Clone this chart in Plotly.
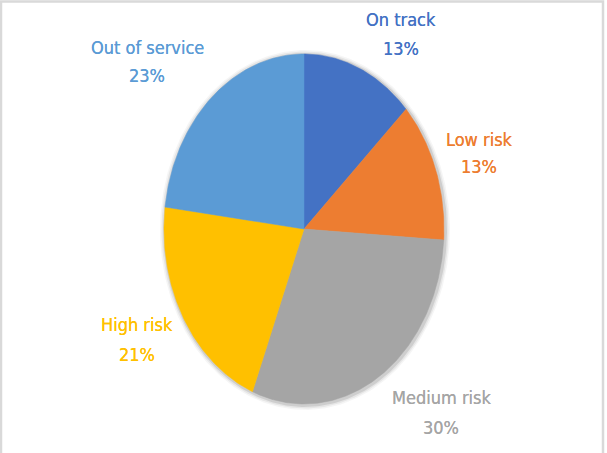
import numpy as np
import plotly.graph_objects as go

# ---- data ----
categories = ["On track", "Low risk", "Medium risk", "High risk", "Out of service"]
values = [13, 13, 30, 21, 23]
colors = ["#4472C4", "#ED7D31", "#A5A5A5", "#FFC000", "#5B9BD5"]

# ---- layout (pixel space) ----
W, H = 607, 453
cx, cy = 304, 229
rx, ry = 140, 175
# label centers (name line, percent line)
label_xy = [(401, 19, 48), (479, 139, 166), (441, 397, 427), (137, 324, 354), (147, 47, 75)]

fig = go.Figure()

# soft shadow
for k, op in [(5, 0.04), (3.5, 0.06), (2, 0.10)]:
    t = np.linspace(0, 2 * np.pi, 400)
    fig.add_trace(go.Scatter(
        x=cx + 1 + (rx + k) * np.sin(t), y=cy + 1 - (ry + k) * np.cos(t),
        mode="lines", fill="toself", fillcolor=f"rgba(0,0,0,{op})",
        line=dict(width=0), hoverinfo="skip", showlegend=False))

total = sum(values)
start = 0.0
for cat, v, col in zip(categories, values, colors):
    a0 = start / total * 2 * np.pi
    a1 = (start + v) / total * 2 * np.pi
    t = np.linspace(a0, a1, max(int(v * 6), 20))
    xs = np.concatenate([[cx], cx + rx * np.sin(t), [cx]])
    ys = np.concatenate([[cy], cy - ry * np.cos(t), [cy]])
    fig.add_trace(go.Scatter(
        x=xs, y=ys, mode="lines", fill="toself", fillcolor=col,
        line=dict(width=0.5, color=col), name=cat,
        hoverinfo="name", showlegend=False))
    start += v

font_family = "DejaVu Sans Condensed, Liberation Sans Narrow, sans-serif"
for (cat, v, col), (lx, ly1, ly2) in zip(zip(categories, values, colors), label_xy):
    pct = round(v / total * 100)
    fig.add_annotation(x=lx, y=ly1, text=cat, showarrow=False,
                       font=dict(family=font_family, size=18, color=col,
                                 shadow=f"0 0 0.6px {col}"),
                       xanchor="center", yanchor="middle")
    fig.add_annotation(x=lx, y=ly2, text=f"{pct}%", showarrow=False,
                       font=dict(family=font_family, size=18, color=col,
                                 shadow=f"0 0 0.6px {col}"),
                       xanchor="center", yanchor="middle")

# chart-area border
fig.add_shape(type="rect", xref="paper", yref="paper",
              x0=1 / W, x1=603 / W, y0=-0.05, y1=1 - 1.5 / H,
              line=dict(color="#D9D9D9", width=2.5), layer="below")

fig.update_layout(
    width=W, height=H,
    margin=dict(l=0, r=0, t=0, b=0),
    paper_bgcolor="white", plot_bgcolor="white",
    xaxis=dict(range=[0, W], visible=False, fixedrange=True),
    yaxis=dict(range=[H, 0], visible=False, fixedrange=True),
    showlegend=False,
)

fig.write_html("out.html")
